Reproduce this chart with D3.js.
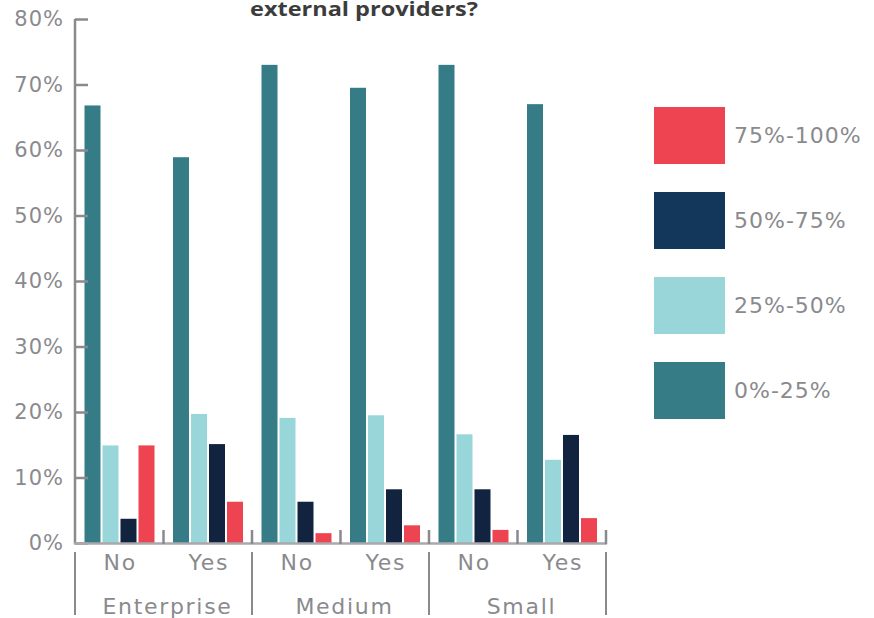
<!DOCTYPE html>
<html><head><meta charset="utf-8">
<script src="https://cdn.jsdelivr.net/npm/d3@7"></script>
<style>body{margin:0;background:#fff}</style>
</head><body>
<svg id="c" width="874" height="618"></svg>
<script>
const groups = ["Enterprise","Medium","Small"];
const answers = ["No","Yes"];
const seriesNames = ["0%-25%","25%-50%","50%-75%","75%-100%"];
const s0_25   = [66.8, 58.9, 73.0, 69.5, 73.0, 67.0];
const s25_50  = [14.9, 19.7, 19.1, 19.5, 16.6, 12.7];
const s50_75  = [3.7, 15.1, 6.3, 8.2, 8.2, 16.5];
const s75_100 = [14.9, 6.3, 1.5, 2.7, 2.0, 3.8];
const yTicks = [0,10,20,30,40,50,60,70,80];
const titleText = "external providers?";

const seriesVals = [s0_25, s25_50, s50_75, s75_100];
const barColors = ["#357C87","#98D6DA","#11233F","#EE4452"];
const legendColors = ["#357C87","#98D6DA","#12375A","#EE4452"];
const grey = "#8a8a8e";
const font = "DejaVu Sans, sans-serif";

const svg = d3.select("#c");
const cats = [];
groups.forEach(g => answers.forEach(a => cats.push(g + "|" + a)));

const x0 = d3.scaleBand().domain(cats).range([75, 606]).padding(0);
const x1 = d3.scaleBand().domain(d3.range(4)).range([9.5, 79.5]).paddingInner(0.111);
const y = d3.scaleLinear().domain([0, 80]).range([543, 19]);

// title
svg.append("text").attr("x", 364).attr("y", 16).attr("text-anchor", "middle")
  .attr("font-family", "Open Sans, sans-serif").attr("font-weight", "bold")
  .attr("font-size", 20).attr("fill", "#3c3c3c")
  .attr("textLength", 228).attr("lengthAdjust", "spacingAndGlyphs").text(titleText);

// bars
cats.forEach((c, i) => {
  const g = svg.append("g").attr("transform", `translate(${x0(c)},0)`);
  seriesVals.forEach((vals, s) => {
    g.append("rect").attr("x", x1(s)).attr("width", x1.bandwidth())
      .attr("y", y(vals[i])).attr("height", y(0) - y(vals[i]))
      .attr("fill", barColors[s]);
  });
});

// y axis
const yAxis = d3.axisLeft(y).tickValues(yTicks).tickFormat(d => d + "%").tickSize(-13).tickPadding(11);
const ya = svg.append("g").attr("transform", "translate(75,0)").call(yAxis);
ya.select(".domain").attr("stroke", grey).attr("stroke-width", 2.5).attr("d", "M0,19V544");
ya.selectAll(".tick line").attr("stroke", grey).attr("stroke-width", 2.5);
ya.selectAll(".tick text").attr("font-family", font).attr("font-size", 21)
  .attr("letter-spacing", 1).attr("fill", grey);

// x axis baseline
svg.append("line").attr("x1", 74).attr("x2", 607).attr("y1", 543.5).attr("y2", 543.5)
  .attr("stroke", "#a9a9ad").attr("stroke-width", 2.5);
// upward ticks at boundaries
cats.forEach(c => {
  const xe = x0(c) + x0.bandwidth();
  svg.append("line").attr("x1", xe).attr("x2", xe).attr("y1", 530).attr("y2", 544)
    .attr("stroke", grey).attr("stroke-width", 2.5);
});
// answer labels
cats.forEach(c => {
  svg.append("text").attr("x", x0(c) + x0.bandwidth() / 2 + 1).attr("y", 570)
    .attr("text-anchor", "middle").attr("font-family", font).attr("font-size", 22)
    .attr("letter-spacing", 1.7).attr("fill", grey).text(c.split("|")[1]);
});
// group separators and labels
const gx = d3.scaleBand().domain(groups).range([75, 606]);
[75, 252, 429, 606].forEach(xx => {
  svg.append("line").attr("x1", xx).attr("x2", xx).attr("y1", 552).attr("y2", 615)
    .attr("stroke", grey).attr("stroke-width", 2);
});
groups.forEach(g => {
  svg.append("text").attr("x", gx(g) + gx.bandwidth() / 2 + 4).attr("y", 614)
    .attr("text-anchor", "middle").attr("font-family", font).attr("font-size", 22)
    .attr("letter-spacing", 1.7).attr("fill", grey).text(g);
});

// legend
const legOrder = [3, 2, 1, 0];
legOrder.forEach((s, k) => {
  const yy = 107 + k * 85;
  svg.append("rect").attr("x", 654).attr("y", yy).attr("width", 71).attr("height", 57)
    .attr("fill", legendColors[s]);
  svg.append("text").attr("x", 734).attr("y", yy + 28.5).attr("dy", "0.35em")
    .attr("font-family", font).attr("font-size", 22).attr("letter-spacing", 1)
    .attr("fill", grey).text(seriesNames[s]);
});
</script>
</body></html>
